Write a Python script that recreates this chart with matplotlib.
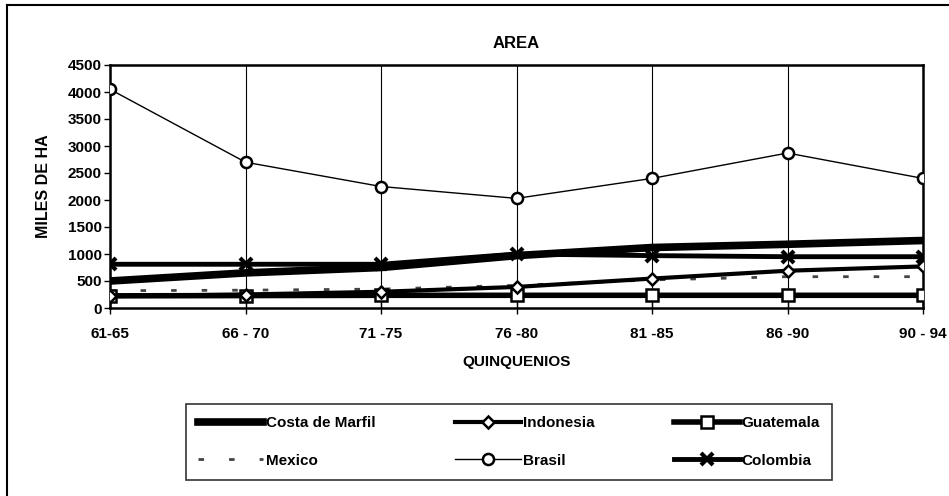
# Area by quinquennium, six producing countries
from matplotlib import pyplot as plt
from matplotlib.lines import Line2D
import numpy as np

plt.rcParams['font.family'] = ['Liberation Sans', 'DejaVu Sans']
plt.rcParams['font.weight'] = 'bold'

periods = ['61-65', '66 - 70', '71 -75', '76 -80', '81 -85', '86 -90', '90 - 94']

costa_marfil = [500, 650, 750, 970, 1120, 1180, 1250]
indonesia = [220, 250, 300, 390, 545, 690, 770]
guatemala = [225, 230, 235, 235, 235, 235, 235]
mexico = [320, 330, 350, 420, 520, 580, 580]
brasil = [4050, 2700, 2250, 2030, 2400, 2870, 2400]
colombia = [810, 810, 810, 1000, 970, 950, 950]

x = np.arange(len(periods))

fig = plt.figure(figsize=(9.49, 4.96), dpi=100)
ax = fig.add_axes([110/949, 1 - 308/496, 813/949, 243/496])

ax.plot(x, mexico, color='#444444', lw=2.0, dashes=(2, 9), zorder=3)
ax.plot(x, guatemala, color='black', lw=4, marker='s', ms=8, mfc='white', mec='black', mew=1.8, zorder=4)
ax.plot(x, indonesia, color='black', lw=3, marker='D', ms=6, mfc='white', mec='black', mew=1.8, zorder=5)
ax.plot(x, costa_marfil, color='black', lw=5.5, zorder=6)
ax.plot(x, colombia, color='black', lw=3.5, marker='x', ms=9, mew=3, zorder=5)
ax.plot(x, brasil, color='black', lw=1, marker='o', ms=8, mfc='white', mec='black', mew=1.8, zorder=7)

ax.set_xlim(0, 6)
ax.set_ylim(0, 4500)
ax.set_yticks(np.arange(0, 4501, 500))
ax.set_xticks(x)
ax.set_xticklabels(periods)
ax.grid(axis='x', color='black', lw=0.8)
for s in ax.spines.values():
    s.set_linewidth(1.8)
ax.tick_params(axis='x', direction='inout', length=8, width=1, labelsize=11, pad=10)
ax.tick_params(axis='y', direction='out', length=4, width=1, labelsize=11, pad=2)

ax.set_title('AREA', fontsize=12, fontweight='bold', pad=12)
ax.set_ylabel('MILES DE HA', fontsize=11.5, fontweight='bold', labelpad=12)
ax.set_xlabel('QUINQUENIOS', fontsize=11, fontweight='bold', labelpad=10)

handles = [
    Line2D([], [], color='black', lw=5.5),
    Line2D([], [], color='#444444', lw=2.0, dashes=(2, 9)),
    Line2D([], [], color='black', lw=3, marker='D', ms=6, mfc='white', mew=1.8),
    Line2D([], [], color='black', lw=1, marker='o', ms=8, mfc='white', mew=1.8),
    Line2D([], [], color='black', lw=4, marker='s', ms=8, mfc='white', mew=1.8),
    Line2D([], [], color='black', lw=3.5, marker='x', ms=9, mew=3),
]
labels = ['Costa de Marfil', 'Mexico', 'Indonesia', 'Brasil', 'Guatemala', 'Colombia']
leg = fig.legend(handles, labels, ncol=3, loc='center', bbox_to_anchor=(509/949, 1 - 442/496),
                 fancybox=False, edgecolor='black', fontsize=11, handlelength=4.3,
                 handletextpad=0.15, columnspacing=5.2, labelspacing=1.55, borderpad=0.8)
leg.get_frame().set_linewidth(1.2)

# outer chart frame (left and top edges visible in the scan)
fig.add_artist(Line2D([7/949, 7/949], [0, 1 - 5/496], color='black', lw=1.5))
fig.add_artist(Line2D([7/949, 1], [1 - 5/496, 1 - 5/496], color='black', lw=1.5))

fig.savefig('out.png', dpi=100)
